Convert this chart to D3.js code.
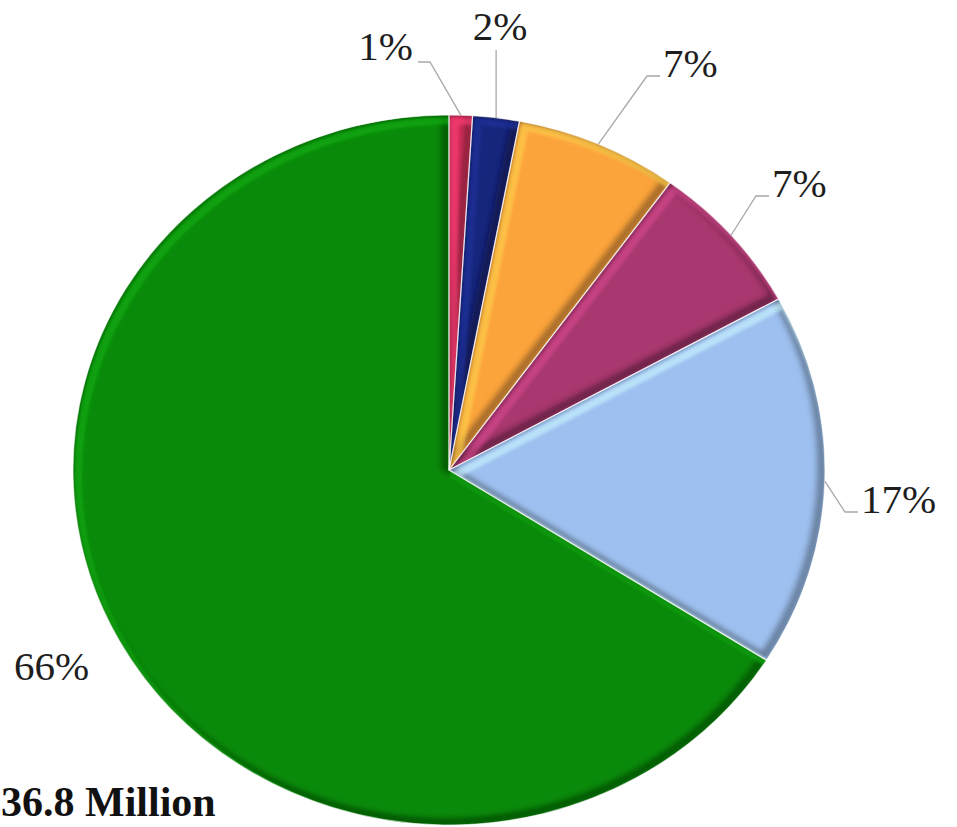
<!DOCTYPE html>
<html>
<head>
<meta charset="utf-8">
<script src="https://cdn.jsdelivr.net/npm/d3@7"></script>
<style>
  html, body { margin: 0; padding: 0; background: #fff; }
  svg { display: block; }
</style>
</head>
<body>
<svg id="chart" width="957" height="827"></svg>
<script>
// Slice shares, clockwise from twelve o'clock
const categories = ["A", "B", "C", "D", "E", "F"];
const values = [1, 2, 7, 7, 17, 66];
const labels = ["1%", "2%", "7%", "7%", "17%", "66%"];
const colors = ["#d8305c", "#16267c", "#fca43c", "#a8386f", "#9ec0f0", "#0a8a0a"];
const totalLabel = "36.8 Million";

// Label placement relative to the pie centre: [dx, dy, anchor, leader]
const labelLayout = [
  [-36, -410, "end", "elbow"],
  [51, -430, "middle", "vertical"],
  [214, -393, "start", "elbow"],
  [323, -273, "start", "elbow"],
  [412, 43, "start", "elbow"],
  [-435, 210, "start", "none"]
];

const W = 957, H = 827;
const cx = 449, cy = 470;
const rx = 376, ry = 355;
const sy = ry / rx;

const svg = d3.select("#chart");
svg.append("rect").attr("width", W).attr("height", H).attr("fill", "#fff");

const defs = svg.append("defs");
const blur = defs.append("filter").attr("id", "soft")
  .attr("x", "-20%").attr("y", "-20%").attr("width", "140%").attr("height", "140%");
blur.append("feGaussianBlur").attr("stdDeviation", 3);
const blurSmall = defs.append("filter").attr("id", "softer")
  .attr("x", "-20%").attr("y", "-20%").attr("width", "140%").attr("height", "140%");
blurSmall.append("feGaussianBlur").attr("stdDeviation", 1.8);

const pie = d3.pie().sort(null).value(d => d.v)
  .startAngle(0).endAngle(2 * Math.PI);
const data = categories.map((c, i) => ({ c, v: values[i], i }));
const arcs = pie(data);

const arc = d3.arc().innerRadius(0).outerRadius(rx);

const g = svg.append("g")
  .attr("transform", `translate(${cx},${cy}) scale(1,${sy})`);

arcs.forEach((a, i) => {
  const id = "clip" + i;
  defs.append("clipPath").attr("id", id)
    .append("path").attr("d", arc(a));
  const sg = g.append("g").attr("clip-path", `url(#${id})`);
  const base = d3.color(colors[i]);
  sg.append("path").attr("d", arc(a)).attr("fill", colors[i]);
  // darker bevel on the lower-right edges
  sg.append("path").attr("d", arc(a))
    .attr("fill", "none")
    .attr("stroke", base.darker(1.8))
    .attr("stroke-width", 9)
    .attr("stroke-opacity", 0.75)
    .attr("transform", "translate(-3,-3)")
    .attr("filter", "url(#soft)");
  // lighter bevel on the upper-left edges
  sg.append("path").attr("d", arc(a))
    .attr("fill", "none")
    .attr("stroke", base.brighter(0.7))
    .attr("stroke-width", 8)
    .attr("stroke-opacity", 0.6)
    .attr("transform", "translate(5,6)")
    .attr("filter", "url(#softer)");
});

// thin separators between slices
g.selectAll("path.sep").data(arcs).join("path")
  .attr("class", "sep")
  .attr("d", arc)
  .attr("fill", "none")
  .attr("stroke", "#ffffff")
  .attr("stroke-opacity", 0.6)
  .attr("stroke-width", 1.2);

// leader lines and percentage labels
const lab = svg.append("g");
arcs.forEach((a, i) => {
  const [dx, dy, anchor, leader] = labelLayout[i];
  const mid = (a.startAngle + a.endAngle) / 2;
  const ex = cx + rx * Math.sin(mid);
  const ey = cy - ry * Math.cos(mid);
  const lx = cx + dx, ly = cy + dy;
  let pts = null;
  if (leader === "elbow") {
    if (anchor === "end") {
      pts = [[ex, ey], [lx + 17, ly + 2], [lx + 5, ly + 2]];
    } else {
      pts = [[ex, ey], [lx - 16, ly - 1], [lx - 3, ly - 1]];
    }
  } else if (leader === "vertical") {
    pts = [[ex, ey], [ex, ly + 10]];
  }
  if (pts) {
    lab.append("path")
      .attr("d", d3.line()(pts))
      .attr("fill", "none")
      .attr("stroke", "#a8a8a8")
      .attr("stroke-width", 1.3);
  }
  lab.append("text")
    .attr("x", lx).attr("y", ly)
    .attr("text-anchor", anchor)
    .attr("font-family", "'Liberation Serif', 'Times New Roman', serif")
    .attr("font-size", 41)
    .attr("fill", "#1e1e1e")
    .text(labels[i]);
});

svg.append("text")
  .attr("x", 1).attr("y", 816)
  .attr("font-family", "'Liberation Serif', 'Times New Roman', serif")
  .attr("font-weight", "bold")
  .attr("font-size", 42)
  .attr("fill", "#111")
  .text(totalLabel);
</script>
</body>
</html>
